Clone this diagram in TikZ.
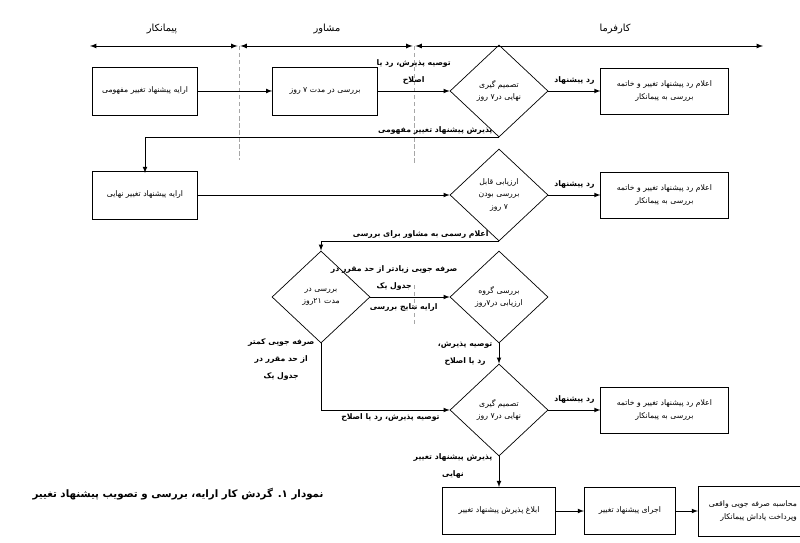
\documentclass[tikz,border=0pt]{standalone}
\usepackage{fontspec}
\newfontfamily\arabicfont[Script=Arabic]{DejaVu Sans}
\TeXXeTstate=1
\usetikzlibrary{arrows,shapes.geometric,positioning}
\newcommand{\fa}[1]{\beginR #1\endR}

\begin{document}
\begin{tikzpicture}[x=0.025cm,y=-0.025cm,>=latex,line width=0.5pt,node distance=1.3cm,
    every node/.style={font=\arabicfont\fontsize{5.5}{9}\selectfont},
    box/.style={draw,rectangle,minimum width=2.62cm,minimum height=1.2cm,align=center},
    outbox/.style={draw,rectangle,minimum width=3.18cm,minimum height=1.15cm,align=center},
    decision/.style={draw,diamond,minimum width=2.45cm,minimum height=2.3cm,inner sep=0pt,align=center},
    lbl/.style={font=\arabicfont\bfseries\fontsize{5.5}{12}\selectfont,align=center,inner sep=4.5pt},
    lane/.style={<->,line width=0.6pt},
    sep/.style={densely dashed,gray!70,line width=0.4pt}]
      \useasboundingbox (0,0) rectangle (800,543);

      %% lanes
      \coordinate (l0) at (90,46);
      \coordinate (l1) at (239,46);
      \coordinate (l2) at (414,46);
      \coordinate (l3) at (763,46);
      \draw[lane] (l0) -- ([xshift=-1pt]l1);
      \draw[lane] ([xshift=1pt]l1) -- ([xshift=-1pt]l2);
      \draw[lane] ([xshift=1pt]l2) -- (l3);
      \node[font=\arabicfont\fontsize{7}{9}\selectfont] (pim) at (162,29) {\fa{پیمانکار}};
      \node[font=\arabicfont\fontsize{7}{9}\selectfont] (mos) at (327,29) {\fa{مشاور}};
      \node[font=\arabicfont\fontsize{7}{9}\selectfont] (kar) at (615,29) {\fa{کارفرما}};
      \draw[sep] (l1) -- (239,160);
      \draw[sep] (l2) -- (414,165);
      \draw[sep] (414,285) -- (414,325);

      %% concept proposal
      \node[box]                (a1) at (145,91)  {\fa{ارایه پیشنهاد تغییر مفهومی}};
      \node[box]                (a2) at (325,91)  {\fa{بررسی در مدت ۷ روز}};
      \node[decision]           (d1) at (499,91)  {\fa{تصمیم گیری}\\\fa{نهایی در۷ روز}};
      \node[outbox] (c1) [right=of d1] {\fa{اعلام رد پیشنهاد تغییر و خاتمه}\\\fa{بررسی به پیمانکار}};

      \path[->] (a1) edge (a2);
      \path[->] (a2) edge node[lbl,above] {\fa{توصیه پذیرش، رد یا}\\\fa{اصلاح}} (d1);
      \path[->] (d1) edge node[lbl,above] {\fa{رد پیشنهاد}} (c1);
      \draw[->] (d1.south) -| node[lbl,above,inner sep=2pt,pos=0.09] {\fa{پذیرش پیشنهاد تغییر مفهومی}} (145,173);

      %% final proposal
      \node[box]                (b1) at (145,195) {\fa{ارایه پیشنهاد تغییر نهایی}};
      \node[decision]           (d2) at (499,195) {\fa{ارزیابی قابل}\\\fa{بررسی بودن}\\\fa{۷ روز}};
      \node[outbox] (c2) [right=of d2] {\fa{اعلام رد پیشنهاد تغییر و خاتمه}\\\fa{بررسی به پیمانکار}};

      \path[->] (b1) edge (d2);
      \path[->] (d2) edge node[lbl,above] {\fa{رد پیشنهاد}} (c2);

      %% review
      \node[decision]           (d3) at (321,297) {\fa{بررسی در}\\\fa{مدت ۲۱روز}};
      \node[decision]           (d4) at (499,297) {\fa{بررسی گروه}\\\fa{ارزیابی در۷روز}};

      \draw[->] (d2.south) -| node[lbl,above,inner sep=2pt,pos=0.22] {\fa{اعلام رسمی به مشاور برای بررسی}} (d3.north);
      \path[->] (d3) edge node[lbl,above,pos=0.3] {\fa{صرفه جویی زیادتر از حد مقرر در}\\\fa{جدول یک}}
                          node[lbl,below,pos=0.42] {\fa{ارایه نتایج بررسی}} (d4);

      %% final decision
      \node[decision]           (d5) at (499,410) {\fa{تصمیم گیری}\\\fa{نهایی در۷ روز}};
      \node[outbox] (c3) [right=of d5] {\fa{اعلام رد پیشنهاد تغییر و خاتمه}\\\fa{بررسی به پیمانکار}};

      \path[->] (d4) edge node[lbl,left] {\fa{توصیه پذیرش،}\\\fa{رد یا اصلاح}} (d5);
      \draw[->] (d3.south) |- node[lbl,left,pos=0.12] {\fa{صرفه جویی کمتر}\\\fa{از حد مقرر در}\\\fa{جدول یک}}
                          node[lbl,below,inner sep=2pt,pos=0.77] {\fa{توصیه پذیرش، رد یا اصلاح}} (d5.west);
      \path[->] (d5) edge node[lbl,above] {\fa{رد پیشنهاد}} (c3);

      %% execution
      \node[box,minimum width=2.83cm,minimum height=1.18cm] (e1) at (499,511) {\fa{ابلاغ پذیرش پیشنهاد تغییر}};
      \node[box,minimum width=2.28cm,minimum height=1.18cm] (e2) [right=0.7cm of e1] {\fa{اجرای پیشنهاد تغییر}};
      \node[box,minimum width=0pt,minimum height=1.25cm,text width=3cm,align=right] (e3) [right=0.55cm of e2]
          {\fa{محاسبه صرفه جویی واقعی}\rule{0.65cm}{0pt}\\\fa{وپرداخت پاداش پیمانکار}\rule{0.65cm}{0pt}};

      \path[->] (d5) edge node[lbl,left,pos=0.3] {\fa{پذیرش پیشنهاد تغییر}\\\fa{نهایی}} (e1);
      \path[->] (e1) edge (e2);
      \path[->] (e2) edge (e3);

      \node[font=\arabicfont\bfseries\fontsize{7.3}{10}\selectfont] (cap) at (178,494)
          {\fa{نمودار ۱. گردش کار ارایه، بررسی و تصویب پیشنهاد تغییر}};
\end{tikzpicture}
\end{document}
